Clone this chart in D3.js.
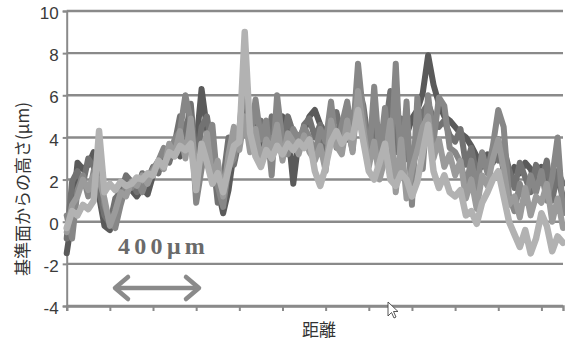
<!DOCTYPE html>
<html>
<head>
<meta charset="utf-8">
<script src="https://cdn.jsdelivr.net/npm/d3@7"></script>
<style>
  html, body { margin: 0; padding: 0; background: #fff; }
  svg { display: block; }
</style>
</head>
<body>
<svg id="chart" width="565" height="343"></svg>
<script>
// ---- data (height above reference plane, μm), one value per sample ----
const yTicks = [-4, -2, 0, 2, 4, 6, 8, 10];
const xTickSamples = [0, 8, 16, 24, 32, 40, 48, 56, 64, 72, 80, 88];
const yLabel = "基準面からの高さ(μm)";
const xLabel = "距離";
const scaleLabel = "400μm";

const seriesDark = [-1.5,0.2,2.8,2.5,2.7,3.3,1.2,-0.2,-0.4,0.6,1.8,2.0,1.5,1.2,1.6,1.3,2.2,2.6,3.0,3.2,3.4,3.1,3.8,4.2,3.6,6.3,4.4,2.5,1.6,0.4,1.5,3.3,3.8,4.6,4.2,4.9,3.2,4.0,4.5,4.2,5.0,4.4,1.8,3.9,4.3,5.0,5.3,4.6,4.2,4.8,4.2,4.7,3.9,4.1,5.6,4.4,3.3,4.5,3.6,4.2,5.0,3.6,4.5,4.1,4.9,5.3,6.1,7.9,6.5,5.6,5.0,4.8,4.5,4.2,4.0,3.6,3.1,2.6,3.2,2.8,3.9,2.4,2.0,2.6,2.3,2.8,2.5,1.8,2.6,2.2,1.5,2.0,1.2];
const seriesDarkMid = [-0.8,1.9,2.4,1.8,3.0,2.6,1.5,0.3,-0.1,1.1,1.4,2.2,1.9,1.4,2.3,2.0,2.6,2.3,3.3,2.8,3.7,5.0,4.1,5.6,2.7,4.5,5.0,3.3,0.9,2.0,4.0,2.7,3.9,5.4,4.6,3.8,4.8,3.3,5.0,4.1,3.6,5.0,4.2,3.4,4.6,4.9,4.0,4.6,3.0,4.4,5.2,4.1,4.5,3.4,6.5,5.5,3.6,4.9,2.5,4.3,6.2,3.3,4.9,3.0,2.8,4.4,5.2,5.6,4.9,4.5,4.8,4.1,3.8,4.4,2.7,3.5,2.2,3.0,2.6,3.4,2.9,3.5,2.5,1.6,2.8,2.1,1.4,2.7,1.9,2.9,1.0,2.4,1.8];
const seriesMid = [0.3,-0.8,1.5,2.2,1.2,2.4,2.9,0.8,0.0,-0.3,0.8,1.7,1.6,2.0,1.4,2.1,2.5,2.9,3.5,3.1,3.9,4.3,6.0,4.8,0.9,2.5,3.8,4.6,1.7,0.7,2.6,3.0,4.4,7.0,3.6,5.8,3.9,4.8,2.2,6.0,3.8,3.2,4.4,3.9,4.5,4.0,3.2,4.4,3.8,5.7,3.5,4.6,5.7,4.0,7.5,5.0,2.8,6.4,3.1,5.4,2.6,7.5,2.2,5.7,0.8,5.9,2.5,6.0,3.8,5.9,5.5,3.5,3.3,2.8,1.7,2.9,1.5,3.3,2.3,3.6,5.3,4.5,1.2,0.5,1.8,0.9,2.2,1.4,2.4,1.0,2.1,4.0,0.4];
const seriesLightMid = [-0.5,0.8,1.2,2.0,1.5,2.2,2.0,1.1,-0.2,0.5,1.4,1.2,1.9,1.7,2.2,1.8,2.4,2.8,2.5,3.7,3.2,4.3,3.0,4.9,2.1,3.2,4.2,2.0,2.9,1.2,3.2,4.5,3.4,5.0,3.3,4.4,2.8,3.9,3.4,4.6,2.9,4.2,3.8,3.2,4.1,3.3,2.9,3.6,2.4,4.8,3.6,3.2,4.8,3.3,6.2,4.4,2.6,3.8,2.0,3.0,4.8,1.4,3.9,1.1,2.5,3.4,4.5,5.0,3.0,3.9,2.6,3.2,2.2,2.9,1.1,2.0,0.6,2.2,1.7,3.0,3.9,2.5,0.8,1.2,0.2,1.6,0.3,1.2,0.9,1.8,0.0,1.1,-0.3];
const seriesLight = [-0.3,0.5,0.3,0.8,0.6,1.0,4.3,1.4,1.8,1.5,1.9,1.7,1.8,2.1,2.0,2.3,2.2,2.9,2.6,3.3,3.1,3.6,3.4,3.7,1.5,3.7,2.8,1.8,2.3,1.4,2.5,3.6,3.8,9.0,4.2,3.1,2.6,3.4,3.0,3.6,3.2,3.7,3.4,3.8,3.5,3.9,2.4,1.7,2.6,3.8,4.3,3.7,4.1,4.0,5.3,3.8,2.4,2.0,2.8,3.7,2.0,1.7,2.3,2.0,1.2,1.9,3.3,4.6,2.4,1.6,2.2,1.4,1.2,1.5,0.3,0.5,-0.1,0.9,1.4,2.0,2.4,1.2,0.0,-0.6,-1.2,-0.4,-1.5,-0.8,0.4,-0.2,-1.4,-0.7,-1.0];

const seriesList = [
  { values: seriesDark,      color: "#5a5a5a", width: 6 },
  { values: seriesDarkMid,   color: "#727272", width: 6 },
  { values: seriesMid,       color: "#878787", width: 6 },
  { values: seriesLightMid,  color: "#9b9b9b", width: 6 },
  { values: seriesLight,     color: "#b2b2b2", width: 6.5 }
];

// ---- layout ----
const W = 565, H = 343;
const margin = { left: 66.7, right: 2, top: 11, bottom: 37 };
const nSamples = seriesLight.length;

const svg = d3.select("#chart");
const x = d3.scaleLinear().domain([0, nSamples - 1]).range([margin.left, W - margin.right]);
const y = d3.scaleLinear().domain([-4, 10]).range([H - margin.bottom, margin.top]);

// gridlines
svg.append("g")
  .selectAll("line")
  .data(yTicks)
  .join("line")
  .attr("x1", margin.left).attr("x2", W - margin.right)
  .attr("y1", d => y(d)).attr("y2", d => y(d))
  .attr("stroke", "#8a8a8a").attr("stroke-width", 2.4);

// y axis
const yAxis = svg.append("g")
  .attr("transform", `translate(${margin.left},0)`)
  .call(d3.axisLeft(y).tickValues(yTicks).tickSize(4).tickPadding(4).tickFormat(d3.format("d")));
yAxis.select(".domain").attr("stroke", "#8a8a8a").attr("stroke-width", 2);
yAxis.selectAll(".tick line").attr("stroke", "#8a8a8a").attr("stroke-width", 2);
yAxis.selectAll(".tick text")
  .attr("font-family", "Liberation Sans, Arial, sans-serif")
  .attr("font-size", 17).attr("fill", "#3a3a3a")
  .attr("dy", "0.45em")
  .text(d => d < 0 ? "-" + Math.abs(d) : d);

// x axis
const xAxis = svg.append("g")
  .attr("transform", `translate(0,${y(-4)})`)
  .call(d3.axisBottom(x).tickValues(xTickSamples).tickSize(5).tickFormat(""));
xAxis.select(".domain").attr("stroke", "#8a8a8a").attr("stroke-width", 2.4);
xAxis.selectAll(".tick line").attr("stroke", "#8a8a8a").attr("stroke-width", 2);

// profile lines
const line = d3.line().x((d, i) => x(i)).y(d => y(d)).curve(d3.curveLinear);
svg.append("g")
  .selectAll("path")
  .data(seriesList)
  .join("path")
  .attr("d", d => line(d.values))
  .attr("fill", "none")
  .attr("stroke", d => d.color)
  .attr("stroke-width", d => d.width)
  .attr("stroke-linejoin", "round")
  .attr("stroke-linecap", "round");

// scale annotation
svg.append("text")
  .attr("x", 118).attr("y", 254)
  .attr("font-family", "Liberation Serif, Times New Roman, serif")
  .attr("font-weight", "bold")
  .attr("font-size", 24)
  .attr("letter-spacing", 4.3)
  .attr("fill", "#6a6a6a")
  .text(scaleLabel);

const ax0 = 115, ax1 = 199, ay = 288;
const arrow = svg.append("g").attr("stroke", "#8a8a8a").attr("fill", "none")
  .attr("stroke-width", 4.5).attr("stroke-linecap", "round").attr("stroke-linejoin", "round");
arrow.append("line").attr("x1", ax0 + 2).attr("x2", ax1 - 2).attr("y1", ay).attr("y2", ay);
arrow.append("path").attr("d", `M${ax0 + 13},${ay - 11} L${ax0},${ay} L${ax0 + 13},${ay + 11}`);
arrow.append("path").attr("d", `M${ax1 - 13},${ay - 11} L${ax1},${ay} L${ax1 - 13},${ay + 11}`);

// axis titles
svg.append("text")
  .attr("transform", `translate(29,${189}) rotate(-90)`)
  .attr("text-anchor", "middle")
  .attr("font-family", "Noto Sans CJK JP, sans-serif")
  .attr("font-size", 17)
  .attr("fill", "#333")
  .text(yLabel);

svg.append("text")
  .attr("x", 319).attr("y", 336)
  .attr("text-anchor", "middle")
  .attr("font-family", "Noto Sans CJK JP, sans-serif")
  .attr("font-size", 17)
  .attr("fill", "#333")
  .text(xLabel);

// mouse pointer seen in the screenshot
svg.append("path")
  .attr("d", "M388,302 L388,316 L391.5,312.5 L394,318 L396,317 L393.5,311.5 L398,311.5 Z")
  .attr("fill", "#fff").attr("stroke", "#444").attr("stroke-width", 0.9);
</script>
</body>
</html>
